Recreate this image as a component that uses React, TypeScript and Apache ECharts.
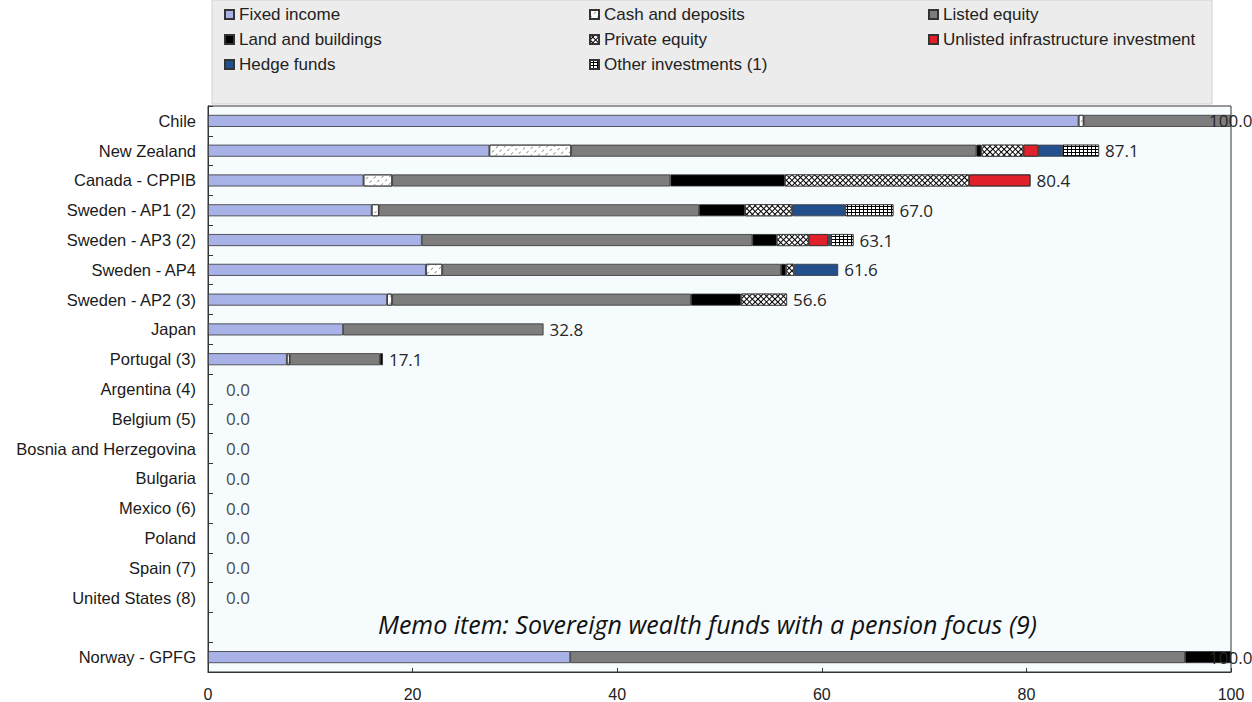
import React, { useEffect, useRef } from 'react';
import * as echarts from 'echarts';

const categories = [
  'Chile', 'New Zealand', 'Canada - CPPIB', 'Sweden - AP1 (2)', 'Sweden - AP3 (2)',
  'Sweden - AP4', 'Sweden - AP2 (3)', 'Japan', 'Portugal (3)', 'Argentina (4)',
  'Belgium (5)', 'Bosnia and Herzegovina', 'Bulgaria', 'Mexico (6)', 'Poland',
  'Spain (7)', 'United States (8)', '', 'Norway - GPFG',
];

const fixedIncome =   [85.1, 27.5, 15.2, 16.0, 20.9, 21.3, 17.5, 13.2, 7.7, 0, 0, 0, 0, 0, 0, 0, 0, null, 35.4];
const cashDeposits =  [0.5, 8.0, 2.8, 0.7, 0, 1.6, 0.5, 0, 0.3, 0, 0, 0, 0, 0, 0, 0, 0, null, 0];
const listedEquity =  [14.4, 39.6, 27.2, 31.3, 32.3, 33.1, 29.2, 19.6, 8.8, 0, 0, 0, 0, 0, 0, 0, 0, null, 60.1];
const landBuildings = [0, 0.5, 11.2, 4.5, 2.4, 0.5, 4.9, 0, 0.3, 0, 0, 0, 0, 0, 0, 0, 0, null, 4.5];
const privateEquity = [0, 4.1, 18.0, 4.6, 3.1, 0.8, 4.5, 0, 0, 0, 0, 0, 0, 0, 0, 0, 0, null, 0];
const unlistedInfra = [0, 1.5, 6.0, 0, 1.9, 0, 0, 0, 0, 0, 0, 0, 0, 0, 0, 0, 0, null, 0];
const hedgeFunds =    [0, 2.3, 0, 5.2, 0.3, 4.3, 0, 0, 0, 0, 0, 0, 0, 0, 0, 0, 0, null, 0];
const otherInv =      [0, 3.6, 0, 4.7, 2.2, 0, 0, 0, 0, 0, 0, 0, 0, 0, 0, 0, 0, null, 0];
const totals =        [100.0, 87.1, 80.4, 67.0, 63.1, 61.6, 56.6, 32.8, 17.1, 0, 0, 0, 0, 0, 0, 0, 0, null, 100.0];

const xMin = 0;
const xMax = 100;
const xInterval = 20;

const memoText = 'Memo item: Sovereign wealth funds with a pension focus (9)';

export default function App() {
  const ref = useRef<HTMLDivElement>(null);
  useEffect(() => {
    const chart = echarts.init(ref.current!, null, { renderer: 'svg' });
    const clean = (arr: (number | null)[]) => arr.map((v) => (v === null || v === 0 ? '-' : v));
    const border = { borderColor: '#333', borderWidth: 0.8 };
    const mk = (name: string, data: (number | null)[], itemStyle: any) => ({
      name,
      type: 'bar',
      stack: 'total',
      barWidth: 12,
      data: clean(data),
      itemStyle: { ...border, ...itemStyle },
      emphasis: { disabled: true },
    });

    const series: any[] = [
      mk('Fixed income', fixedIncome, { color: '#a8b2e6' }),
      mk('Cash and deposits', cashDeposits, {
        color: '#ffffff',
        decal: { symbol: 'rect', color: '#9a9a9a', dashArrayX: [3, 3], dashArrayY: [1, 4], rotation: -Math.PI / 4, symbolSize: 1 },
      }),
      mk('Listed equity', listedEquity, { color: '#7d7d7d' }),
      mk('Land and buildings', landBuildings, { color: '#000000' }),
      mk('Private equity', privateEquity, {
        color: '#000000',
        decal: { symbol: 'rect', color: '#ffffff', dashArrayX: [3, 1], dashArrayY: [3, 1], rotation: Math.PI / 4, symbolSize: 1 },
      }),
      mk('Unlisted infrastructure investment', unlistedInfra, {
        color: '#e0202a',
        decal: { symbol: 'circle', color: '#800010', dashArrayX: [1, 2], dashArrayY: [1, 2], rotation: 0, symbolSize: 0.9 },
      }),
      mk('Hedge funds', hedgeFunds, { color: '#234f8c' }),
      mk('Other investments (1)', otherInv, {
        color: '#000000',
        decal: { symbol: 'rect', color: '#ffffff', dashArrayX: [3, 1], dashArrayY: [2, 1], rotation: 0, symbolSize: 1 },
      }),
      {
        name: 'Total',
        type: 'bar',
        barWidth: 12,
        barGap: '-100%',
        silent: true,
        itemStyle: { color: 'transparent' },
        data: totals.map((v) => {
          if (v === null) return '-';
          if (v >= 100) return { value: v, label: { offset: [-28, 0] } };
          if (v === 0) return { value: v, label: { distance: 18, color: '#4a4a4a' } };
          return v;
        }),
        label: {
          show: true,
          position: 'right',
          distance: 6,
          fontFamily: 'Open Sans',
          fontSize: 17,
          color: '#262626',
          formatter: (p: any) => Number(p.value).toFixed(1),
        },
        z: 5,
      },
    ];

    const legendCommon = {
      orient: 'vertical',
      itemWidth: 9,
      itemHeight: 9,
      itemGap: 8,
      padding: 0,
      icon: 'rect',
      selectedMode: false,
      textStyle: { fontFamily: 'Liberation Sans', fontSize: 17, color: '#222', lineHeight: 15 },
    };

    chart.setOption({
      animation: false,
      backgroundColor: '#ffffff',
      grid: {
        left: 208, right: 21, top: 106, bottom: 30,
        show: true, backgroundColor: '#f6fbfd', borderColor: '#333', borderWidth: 1,
      },
      legend: [
        { ...legendCommon, left: 224, top: 6, data: ['Fixed income', 'Land and buildings', 'Hedge funds'] },
        { ...legendCommon, left: 589, top: 6, data: ['Cash and deposits', 'Private equity', 'Other investments (1)'] },
        { ...legendCommon, left: 928, top: 6, data: ['Listed equity', 'Unlisted infrastructure investment'] },
      ],
      graphic: [
        {
          type: 'rect', z: 0,
          shape: { x: 212, y: 0, width: 1000, height: 104 },
          style: { fill: '#ececec', stroke: '#d2d2d2', lineWidth: 1 },
        },
        {
          type: 'text', z: 10, left: 378, top: 611,
          style: { text: memoText, font: 'italic 25px "Open Sans"', fill: '#111' },
        },
      ],
      xAxis: {
        type: 'value',
        min: xMin, max: xMax, interval: xInterval,
        axisLine: { show: true, lineStyle: { color: '#333' } },
        axisTick: { show: true, inside: true, length: 4, lineStyle: { color: '#333' } },
        splitLine: { show: false },
        axisLabel: { fontFamily: 'Liberation Sans', fontSize: 16, color: '#222', margin: 14 },
      },
      yAxis: {
        type: 'category',
        data: categories,
        inverse: true,
        axisLine: { show: true, lineStyle: { color: '#333' } },
        axisTick: { show: true, inside: true, length: 5, lineStyle: { color: '#333' } },
        axisLabel: { fontFamily: 'Liberation Sans', fontSize: 16.5, color: '#1a1a1a', margin: 12, interval: 0 },
      },
      series,
    });
    return () => chart.dispose();
  }, []);
  return <div ref={ref} style={{ position: 'fixed', left: 0, top: 0, width: 1252, height: 702 }} />;
}
